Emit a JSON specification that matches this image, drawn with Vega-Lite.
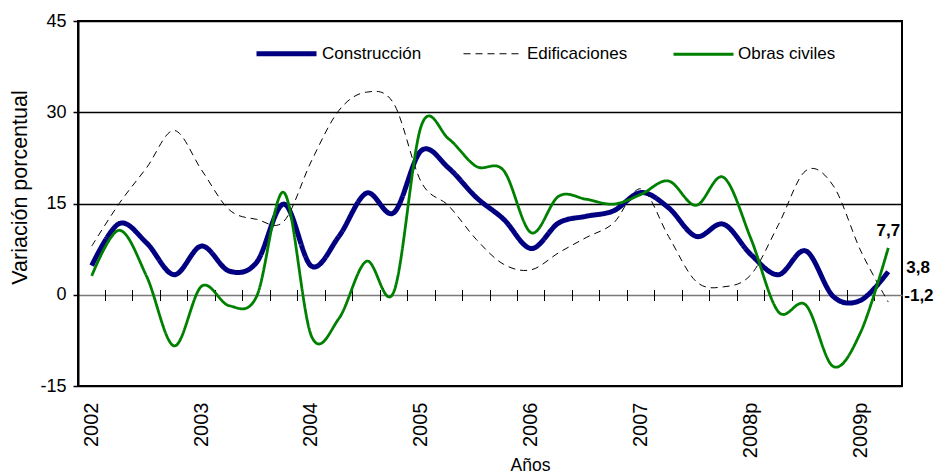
{
  "$schema": "https://vega.github.io/schema/vega-lite/v6.json",
  "width": 824,
  "height": 365,
  "autosize": "none",
  "padding": {"left": 78, "top": 21, "right": 34, "bottom": 89},
  "config": {
    "font": "Liberation Sans",
    "view": {"stroke": "#000", "strokeWidth": 2},
    "locale": {"number": {"decimal": ",", "thousands": ".", "grouping": [3], "currency": ["$", ""], "minus": "-"}}
  },
  "data": {
    "values": [
      {"periodo": "2002-I", "serie": "Construcción", "valor": 4.8},
      {"periodo": "2002-II", "serie": "Construcción", "valor": 11.7},
      {"periodo": "2002-III", "serie": "Construcción", "valor": 8.5},
      {"periodo": "2002-IV", "serie": "Construcción", "valor": 3.3},
      {"periodo": "2003-I", "serie": "Construcción", "valor": 8.0},
      {"periodo": "2003-II", "serie": "Construcción", "valor": 3.9},
      {"periodo": "2003-III", "serie": "Construcción", "valor": 5.3},
      {"periodo": "2003-IV", "serie": "Construcción", "valor": 14.9},
      {"periodo": "2004-I", "serie": "Construcción", "valor": 4.7},
      {"periodo": "2004-II", "serie": "Construcción", "valor": 9.6},
      {"periodo": "2004-III", "serie": "Construcción", "valor": 16.7},
      {"periodo": "2004-IV", "serie": "Construcción", "valor": 13.5},
      {"periodo": "2005-I", "serie": "Construcción", "valor": 23.7},
      {"periodo": "2005-II", "serie": "Construcción", "valor": 20.8},
      {"periodo": "2005-III", "serie": "Construcción", "valor": 16.0},
      {"periodo": "2005-IV", "serie": "Construcción", "valor": 12.4},
      {"periodo": "2006-I", "serie": "Construcción", "valor": 7.6},
      {"periodo": "2006-II", "serie": "Construcción", "valor": 11.8},
      {"periodo": "2006-III", "serie": "Construcción", "valor": 12.9},
      {"periodo": "2006-IV", "serie": "Construcción", "valor": 13.8},
      {"periodo": "2007-I", "serie": "Construcción", "valor": 16.8},
      {"periodo": "2007-II", "serie": "Construcción", "valor": 14.3},
      {"periodo": "2007-III", "serie": "Construcción", "valor": 9.6},
      {"periodo": "2007-IV", "serie": "Construcción", "valor": 11.6},
      {"periodo": "2008p-I", "serie": "Construcción", "valor": 6.6},
      {"periodo": "2008p-II", "serie": "Construcción", "valor": 3.3},
      {"periodo": "2008p-III", "serie": "Construcción", "valor": 7.2},
      {"periodo": "2008p-IV", "serie": "Construcción", "valor": -0.3},
      {"periodo": "2009p-I", "serie": "Construcción", "valor": -0.9},
      {"periodo": "2009p-II", "serie": "Construcción", "valor": 3.8},
      {"periodo": "2002-I", "serie": "Edificaciones", "valor": 8.0},
      {"periodo": "2002-II", "serie": "Edificaciones", "valor": 15.0},
      {"periodo": "2002-III", "serie": "Edificaciones", "valor": 20.9},
      {"periodo": "2002-IV", "serie": "Edificaciones", "valor": 27.0},
      {"periodo": "2003-I", "serie": "Edificaciones", "valor": 20.5},
      {"periodo": "2003-II", "serie": "Edificaciones", "valor": 14.0},
      {"periodo": "2003-III", "serie": "Edificaciones", "valor": 12.4},
      {"periodo": "2003-IV", "serie": "Edificaciones", "valor": 12.1},
      {"periodo": "2004-I", "serie": "Edificaciones", "valor": 22.0},
      {"periodo": "2004-II", "serie": "Edificaciones", "valor": 30.3},
      {"periodo": "2004-III", "serie": "Edificaciones", "valor": 33.3},
      {"periodo": "2004-IV", "serie": "Edificaciones", "valor": 31.4},
      {"periodo": "2005-I", "serie": "Edificaciones", "valor": 18.5},
      {"periodo": "2005-II", "serie": "Edificaciones", "valor": 14.6},
      {"periodo": "2005-III", "serie": "Edificaciones", "valor": 9.1},
      {"periodo": "2005-IV", "serie": "Edificaciones", "valor": 5.0},
      {"periodo": "2006-I", "serie": "Edificaciones", "valor": 4.1},
      {"periodo": "2006-II", "serie": "Edificaciones", "valor": 6.9},
      {"periodo": "2006-III", "serie": "Edificaciones", "valor": 9.4},
      {"periodo": "2006-IV", "serie": "Edificaciones", "valor": 11.8},
      {"periodo": "2007-I", "serie": "Edificaciones", "valor": 17.4},
      {"periodo": "2007-II", "serie": "Edificaciones", "valor": 9.6},
      {"periodo": "2007-III", "serie": "Edificaciones", "valor": 2.2},
      {"periodo": "2007-IV", "serie": "Edificaciones", "valor": 1.3},
      {"periodo": "2008p-I", "serie": "Edificaciones", "valor": 3.3},
      {"periodo": "2008p-II", "serie": "Edificaciones", "valor": 11.5},
      {"periodo": "2008p-III", "serie": "Edificaciones", "valor": 20.4},
      {"periodo": "2008p-IV", "serie": "Edificaciones", "valor": 17.9},
      {"periodo": "2009p-I", "serie": "Edificaciones", "valor": 7.2},
      {"periodo": "2009p-II", "serie": "Edificaciones", "valor": -1.2},
      {"periodo": "2002-I", "serie": "Obras civiles", "valor": 3.1},
      {"periodo": "2002-II", "serie": "Obras civiles", "valor": 10.6},
      {"periodo": "2002-III", "serie": "Obras civiles", "valor": 3.0},
      {"periodo": "2002-IV", "serie": "Obras civiles", "valor": -8.4},
      {"periodo": "2003-I", "serie": "Obras civiles", "valor": 1.4},
      {"periodo": "2003-II", "serie": "Obras civiles", "valor": -1.8},
      {"periodo": "2003-III", "serie": "Obras civiles", "valor": -0.3},
      {"periodo": "2003-IV", "serie": "Obras civiles", "valor": 16.8},
      {"periodo": "2004-I", "serie": "Obras civiles", "valor": -6.8},
      {"periodo": "2004-II", "serie": "Obras civiles", "valor": -3.9},
      {"periodo": "2004-III", "serie": "Obras civiles", "valor": 5.5},
      {"periodo": "2004-IV", "serie": "Obras civiles", "valor": 0.5},
      {"periodo": "2005-I", "serie": "Obras civiles", "valor": 27.8},
      {"periodo": "2005-II", "serie": "Obras civiles", "valor": 25.6},
      {"periodo": "2005-III", "serie": "Obras civiles", "valor": 21.1},
      {"periodo": "2005-IV", "serie": "Obras civiles", "valor": 20.4},
      {"periodo": "2006-I", "serie": "Obras civiles", "valor": 10.2},
      {"periodo": "2006-II", "serie": "Obras civiles", "valor": 16.2},
      {"periodo": "2006-III", "serie": "Obras civiles", "valor": 15.7},
      {"periodo": "2006-IV", "serie": "Obras civiles", "valor": 14.9},
      {"periodo": "2007-I", "serie": "Obras civiles", "valor": 16.5},
      {"periodo": "2007-II", "serie": "Obras civiles", "valor": 18.7},
      {"periodo": "2007-III", "serie": "Obras civiles", "valor": 14.7},
      {"periodo": "2007-IV", "serie": "Obras civiles", "valor": 19.3},
      {"periodo": "2008p-I", "serie": "Obras civiles", "valor": 9.2},
      {"periodo": "2008p-II", "serie": "Obras civiles", "valor": -2.8},
      {"periodo": "2008p-III", "serie": "Obras civiles", "valor": -1.7},
      {"periodo": "2008p-IV", "serie": "Obras civiles", "valor": -11.8},
      {"periodo": "2009p-I", "serie": "Obras civiles", "valor": -6.1},
      {"periodo": "2009p-II", "serie": "Obras civiles", "valor": 7.7}
    ]
  },
  "resolve": {"axis": {"x": "independent"}},
  "layer": [
    {
      "mark": {"type": "line", "interpolate": "cardinal"},
      "encoding": {
        "x": {
          "field": "periodo", "type": "ordinal", "bandPosition": 0.5,
          "scale": {"type": "band", "paddingInner": 0, "paddingOuter": 0},
          "axis": {
            "orient": "bottom", "domain": false, "ticks": false, "grid": false,
            "labelAngle": -90, "labelFontSize": 20, "labelColor": "#000", "labelPadding": 16,
            "labelOverlap": false, "labelBound": false,
            "labelExpr": "indexof(datum.value, '-I') == length(datum.value) - 2 ? slice(datum.value, 0, indexof(datum.value, '-')) : ''",
            "title": "Años", "titleFontSize": 17.5, "titleFontWeight": "normal", "titleColor": "#000",
            "titleX": 452, "titleY": 84, "titleBaseline": "alphabetic", "titleAlign": "center"
          }
        },
        "y": {
          "field": "valor", "type": "quantitative",
          "scale": {"domain": [-15, 45], "nice": false, "zero": false},
          "axis": {
            "values": [-15, 0, 15, 30, 45],
            "domainColor": "#000", "domainWidth": 2,
            "tickColor": "#000", "tickSize": 5, "tickWidth": 1.5,
            "labelFontSize": 18, "labelColor": "#000", "labelPadding": 7,
            "grid": true, "gridWidth": 1.5,
            "gridColor": {"condition": {"test": "datum.value === 0", "value": "#7a7a7a"}, "value": "#000"},
            "title": "Variación porcentual", "titleFontSize": 21.5, "titleFontWeight": "normal", "titleColor": "#000",
            "titleX": -58, "titleY": 166, "titleAngle": -90, "titleBaseline": "middle", "titleAlign": "center"
          }
        },
        "color": {
          "field": "serie", "type": "nominal",
          "scale": {"domain": ["Construcción", "Edificaciones", "Obras civiles"], "range": ["#000080", "#000000", "#008000"]},
          "legend": {
            "title": null, "orient": "none", "direction": "horizontal", "legendX": 176, "legendY": 0,
            "symbolType": "stroke", "symbolSize": 3600, "labelFontSize": 17, "labelColor": "#000",
            "labelOffset": 3, "columnPadding": 39
          }
        },
        "strokeDash": {
          "field": "serie", "type": "nominal",
          "scale": {"domain": ["Construcción", "Edificaciones", "Obras civiles"], "range": [[1, 0], [7, 5], [1, 0]]},
          "legend": {
            "title": null, "orient": "none", "direction": "horizontal", "legendX": 176, "legendY": 0,
            "symbolType": "stroke", "symbolSize": 3600, "labelFontSize": 17, "labelColor": "#000",
            "labelOffset": 3, "columnPadding": 39
          }
        },
        "strokeWidth": {
          "field": "serie", "type": "nominal",
          "scale": {"type": "ordinal", "domain": ["Construcción", "Edificaciones", "Obras civiles"], "range": [5, 1, 2.8]},
          "legend": {
            "title": null, "orient": "none", "direction": "horizontal", "legendX": 176, "legendY": 0,
            "symbolType": "stroke", "symbolSize": 3600, "labelFontSize": 17, "labelColor": "#000",
            "labelOffset": 3, "columnPadding": 39
          }
        }
      }
    },
    {
      "transform": [{"filter": "datum.serie === 'Obras civiles'"}],
      "mark": {"type": "text", "align": "center", "baseline": "bottom", "dy": -8, "fontSize": 17, "fontWeight": "bold", "color": "#000"},
      "encoding": {
        "x": {
          "field": "periodo", "type": "ordinal", "bandPosition": 0.5,
          "axis": {
            "orient": "top", "offset": -279.5, "labels": false, "domain": false, "grid": false, "title": null,
            "ticks": true, "tickSize": 11, "tickColor": "#000", "tickWidth": 1, "bandPosition": 0
          }
        },
        "y": {"field": "valor", "type": "quantitative"},
        "text": {"condition": {"test": "datum.periodo === '2009p-II'", "field": "valor", "type": "quantitative", "format": ".1f"}, "value": ""}
      }
    },
    {
      "transform": [{"filter": "datum.serie === 'Construcción'"}],
      "mark": {"type": "text", "align": "left", "baseline": "middle", "dx": 18, "dy": -4, "fontSize": 17, "fontWeight": "bold", "color": "#000"},
      "encoding": {
        "x": {"field": "periodo", "type": "ordinal", "bandPosition": 0.5, "axis": null},
        "y": {"field": "valor", "type": "quantitative"},
        "text": {"condition": {"test": "datum.periodo === '2009p-II'", "field": "valor", "type": "quantitative", "format": ".1f"}, "value": ""}
      }
    },
    {
      "transform": [{"filter": "datum.serie === 'Edificaciones'"}],
      "mark": {"type": "text", "align": "left", "baseline": "middle", "dx": 16, "dy": -6, "fontSize": 17, "fontWeight": "bold", "color": "#000"},
      "encoding": {
        "x": {"field": "periodo", "type": "ordinal", "bandPosition": 0.5, "axis": null},
        "y": {"field": "valor", "type": "quantitative"},
        "text": {"condition": {"test": "datum.periodo === '2009p-II'", "field": "valor", "type": "quantitative", "format": ".1f"}, "value": ""}
      }
    }
  ]
}
